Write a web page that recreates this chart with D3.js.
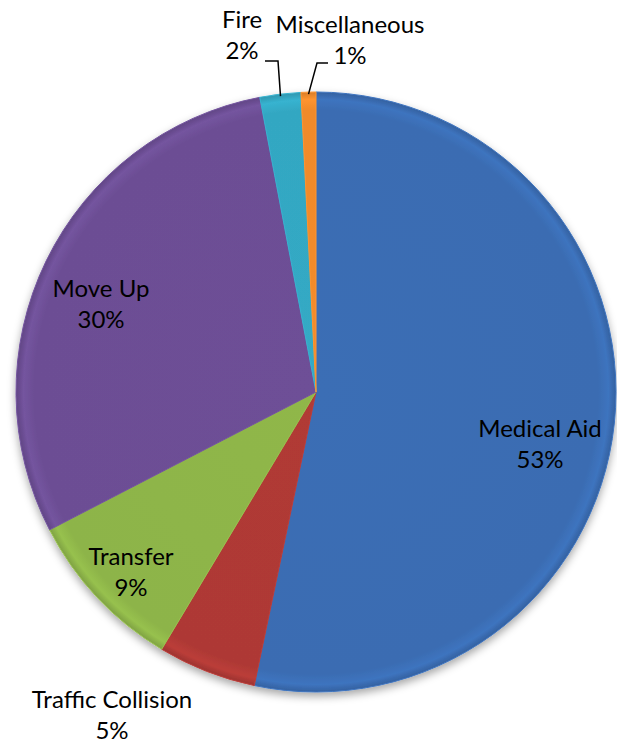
<!DOCTYPE html>
<html>
<head>
<meta charset="utf-8">
<script src="https://cdn.jsdelivr.net/npm/d3@7"></script>
<style>
  body { margin: 0; background: #fff; }
  text { font-family: Lato, "Open Sans", sans-serif; fill: #000; }
</style>
</head>
<body>
<div id="chart"></div>
<script>
// Data (percent of all calls)
const categories = ["Medical Aid", "Traffic Collision", "Transfer", "Move Up", "Fire", "Miscellaneous"];
const values = [53.3, 5.3, 8.8, 29.6, 2.2, 0.8];
const labels = ["53%", "5%", "9%", "30%", "2%", "1%"];
const colors = ["#3a6cb2", "#ae3935", "#8db449", "#6c4e94", "#33a7c2", "#f08a2b"];

const width = 617, height = 748;
const cx = 316, cy = 392, radius = 300;

const svg = d3.select("#chart").append("svg")
    .attr("width", width)
    .attr("height", height);

const defs = svg.append("defs");

// soft shadow below the pie
const shadow = defs.append("filter").attr("id", "shadow")
    .attr("x", "-10%").attr("y", "-10%").attr("width", "120%").attr("height", "125%");
shadow.append("feDropShadow")
    .attr("dx", 0).attr("dy", 4).attr("stdDeviation", 4)
    .attr("flood-color", "#000").attr("flood-opacity", 0.35);

// one gradient per slice for a slight bevel look (centred on the pie)
colors.forEach((c, i) => {
    const g = defs.append("radialGradient").attr("id", "grad" + i)
        .attr("gradientUnits", "userSpaceOnUse")
        .attr("cx", 0).attr("cy", 0).attr("r", radius);
    g.append("stop").attr("offset", "0%").attr("stop-color", d3.color(c).brighter(0.05));
    g.append("stop").attr("offset", "94%").attr("stop-color", c);
    g.append("stop").attr("offset", "97.5%").attr("stop-color", d3.color(c).brighter(0.2));
    g.append("stop").attr("offset", "100%").attr("stop-color", d3.color(c).darker(0.3));
});

const data = categories.map((name, i) => ({ name, value: values[i], label: labels[i], i }));

const pie = d3.pie().value(d => d.value).sort(null);
const arcs = pie(data);

const arc = d3.arc().innerRadius(0).outerRadius(radius);

const g = svg.append("g")
    .attr("transform", `translate(${cx},${cy})`);

g.append("g")
    .attr("filter", "url(#shadow)")
    .selectAll("path")
    .data(arcs)
    .enter()
    .append("path")
    .attr("d", arc)
    .attr("fill", d => `url(#grad${d.data.i})`)
    .attr("stroke", d => d3.color(colors[d.data.i]).brighter(0.2))
    .attr("stroke-width", 1)
    .attr("stroke-linejoin", "round");

// label positions (centre x, baseline y of first line), relative to the page
const labelPos = {
    "Medical Aid": [540, 437],
    "Traffic Collision": [112, 708],
    "Transfer": [131, 565],
    "Move Up": [101, 297],
    "Fire": [242, 28],
    "Miscellaneous": [350, 33]
};
const lineGap = 31;
const fontSize = "24px";

const lbl = svg.append("g").selectAll("g")
    .data(arcs)
    .enter()
    .append("g")
    .attr("transform", d => `translate(${labelPos[d.data.name][0]},${labelPos[d.data.name][1]})`);

lbl.append("text")
    .attr("text-anchor", "middle")
    .style("font-size", fontSize)
    .text(d => d.data.name);

lbl.append("text")
    .attr("text-anchor", "middle")
    .attr("y", lineGap)
    .style("font-size", fontSize)
    .text(d => d.data.label);

// leader lines for the two thin slices
const leader = d3.line();
const edge = d => {
    const a = (d.startAngle + d.endAngle) / 2;
    return [cx + Math.sin(a) * (radius - 2), cy - Math.cos(a) * (radius - 2)];
};
const fireArc = arcs[4], miscArc = arcs[5];
svg.append("path")
    .attr("d", leader([[265, 61], [278, 61], edge(fireArc)]))
    .attr("fill", "none").attr("stroke", "#000").attr("stroke-width", 1.5);
svg.append("path")
    .attr("d", leader([[328, 63], [317, 63], edge(miscArc)]))
    .attr("fill", "none").attr("stroke", "#000").attr("stroke-width", 1.5);
</script>
</body>
</html>
